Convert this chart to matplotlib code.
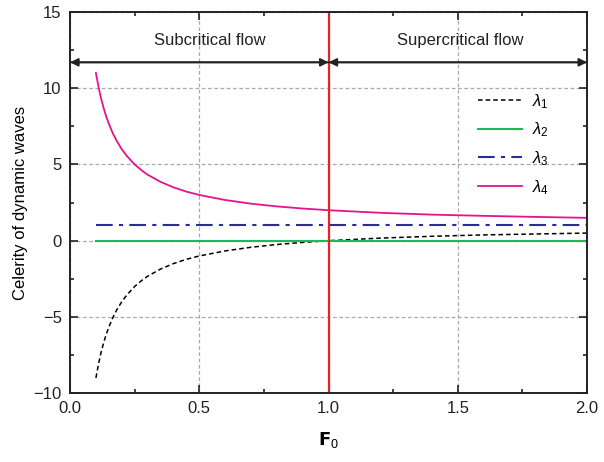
import matplotlib
matplotlib.use('Agg')
import matplotlib.pyplot as plt
from matplotlib.ticker import MultipleLocator

plt.rcParams['font.family'] = ['Liberation Sans', 'DejaVu Sans']
plt.rcParams['mathtext.fontset'] = 'custom'
plt.rcParams['mathtext.it'] = 'Liberation Sans:italic'
plt.rcParams['mathtext.rm'] = 'Liberation Sans'

# values
F0 = [0.1, 0.11, 0.12, 0.13, 0.14, 0.15, 0.165, 0.18, 0.2, 0.22, 0.25, 0.28,
      0.3, 0.35, 0.4, 0.45, 0.5, 0.6, 0.7, 0.8, 0.9, 1.0, 1.2, 1.4, 1.6, 1.8, 2.0]
lam1 = [-9.0, -8.09, -7.33, -6.69, -6.14, -5.67, -5.06, -4.56, -4.0, -3.55,
        -3.0, -2.57, -2.33, -1.86, -1.5, -1.22, -1.0, -0.67, -0.43, -0.25,
        -0.11, 0.0, 0.17, 0.29, 0.38, 0.44, 0.5]
lam2 = [0.0] * len(F0)
lam3 = [1.0] * len(F0)
lam4 = [11.0, 10.09, 9.33, 8.69, 8.14, 7.67, 7.06, 6.56, 6.0, 5.55, 5.0, 4.57,
        4.33, 3.86, 3.5, 3.22, 3.0, 2.67, 2.43, 2.25, 2.11, 2.0, 1.83, 1.71,
        1.63, 1.56, 1.5]

fig = plt.figure(figsize=(6.04, 4.62), dpi=100)
ax = fig.add_axes([0.116, 0.149, 0.856, 0.825])

ax.plot(F0, lam1, color='black', linestyle=(0, (3, 2)), linewidth=1.1, label=r'$\lambda_1$')
ax.plot(F0, lam2, color='#1db954', linewidth=1.5, label=r'$\lambda_2$')
ax.plot(F0, lam3, color='#2b2b9a', linestyle=(0, (8, 3, 2, 3)), linewidth=1.5, label=r'$\lambda_3$')
ax.plot(F0, lam4, color='#e8128c', linewidth=1.3, label=r'$\lambda_4$')

ax.axvline(1.0, color='#e8212b', linewidth=1.6)

# flow region arrows
for a, b in [(0.0, 1.0), (1.0, 0.0), (1.0, 2.0), (2.0, 1.0)]:
    ax.annotate('', xy=(b, 11.7), xytext=(a, 11.7),
                arrowprops=dict(arrowstyle='-|>', color='#222222', lw=1.3, shrinkA=0,
                                shrinkB=0, mutation_scale=12))
ax.text(0.54, 13.15, 'Subcritical flow', ha='center', va='center', fontsize=12, color='#222222')
ax.text(1.51, 13.15, 'Supercritical flow', ha='center', va='center', fontsize=12, color='#222222')

ax.set_xlim(0, 2)
ax.set_ylim(-10, 15)
ax.xaxis.set_major_locator(MultipleLocator(0.5))
ax.xaxis.set_minor_locator(MultipleLocator(0.25))
ax.yaxis.set_major_locator(MultipleLocator(5))
ax.yaxis.set_minor_locator(MultipleLocator(2.5))
ax.xaxis.set_major_formatter(matplotlib.ticker.FormatStrFormatter('%.1f'))
ax.tick_params(which='both', direction='in', top=True, right=True, width=1.2, colors='#222222',
               labelsize=12)
ax.tick_params(which='major', length=6, pad=6)
ax.tick_params(which='minor', length=3)
for s in ax.spines.values():
    s.set_linewidth(1.4)
    s.set_color('#222222')

ax.grid(True, which='major', color='#aaaaaa', linestyle=(0, (3, 2)), linewidth=0.9)
ax.set_axisbelow(True)

ax.set_xlabel(r'$\mathbf{F}_0$', fontsize=13, labelpad=10)
ax.set_ylabel('Celerity of dynamic waves', fontsize=12, labelpad=4)

ax.legend(loc='upper right', bbox_to_anchor=(0.955, 0.83), frameon=False, fontsize=12,
          handlelength=2.6, handletextpad=0.6, labelspacing=0.6)

fig.savefig('out.png', dpi=100)
